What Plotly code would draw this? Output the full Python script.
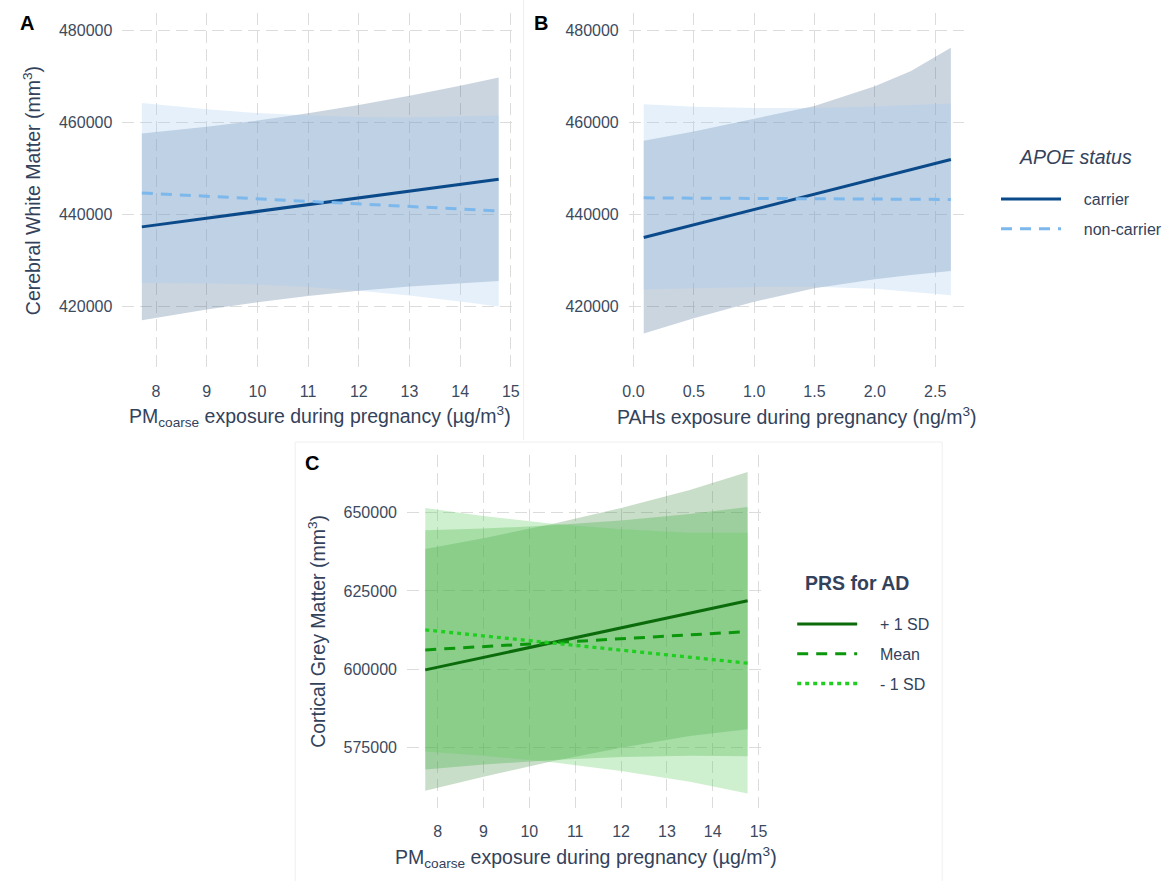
import plotly.graph_objects as go

# ---------------- data ----------------
# Panel A: PMcoarse exposure x APOE status -> Cerebral white matter
pm_x = [7.72, 9, 10, 11, 12, 13, 14, 14.76]
a_carrier_fit = [437240, 439124, 440595, 442067, 443539, 445010, 446482, 447600]
a_carrier_hi = [457540, 458965, 460325, 461908, 463708, 465715, 467913, 469700]
a_carrier_lo = [416940, 419283, 420865, 422226, 423370, 424305, 425051, 425500]
a_non_fit = [444600, 443891, 443337, 442783, 442229, 441675, 441121, 440700]
a_non_hi = [464140, 462763, 461965, 461411, 461101, 461037, 461195, 461451]
a_non_lo = [425060, 425019, 424709, 424155, 423357, 422313, 421047, 419949]

# Panel B: PAHs exposure x APOE status -> Cerebral white matter
pah_x = [0.085, 0.5, 1.0, 1.5, 2.0, 2.3, 2.63]
b_carrier_fit = [434930, 437700, 441030, 444360, 447690, 449690, 451890]
b_carrier_hi = [455930, 457960, 460720, 463500, 467800, 471100, 476150]
b_carrier_lo = [414060, 417390, 421000, 423900, 425870, 426800, 427670]
b_non_fit = [443540, 443480, 443415, 443350, 443285, 443245, 443190]
b_non_hi = [463850, 463350, 463050, 463050, 463400, 463700, 464060]
b_non_lo = [423620, 423900, 424200, 424250, 423800, 423200, 422390]

# Panel C: PMcoarse exposure x PRS for AD -> Cortical grey matter
c_x = [7.73, 9, 10.5, 12, 13.5, 14.76]
c_plus_fit = [599780, 603776, 608496, 613215, 617935, 621900]
c_plus_hi = [638380, 641876, 646396, 651515, 657235, 663000]
c_plus_lo = [561180, 565676, 570596, 574915, 578635, 580800]
c_mean_fit = [606170, 607229, 608479, 609730, 610980, 612030]
c_mean_hi = [644370, 644929, 645979, 647530, 649580, 651830]
c_mean_lo = [567970, 569529, 570979, 571930, 572380, 572230]
c_minus_fit = [612570, 610646, 608373, 606101, 603828, 601920]
c_minus_hi = [651470, 648946, 646473, 644701, 643628, 643570]
c_minus_lo = [573670, 572346, 570273, 567501, 564028, 560270]

apoe_title = "APOE status"
apoe_labels = ["carrier", "non-carrier"]
prs_title = "PRS for AD"
prs_labels = ["+ 1 SD", "Mean", "- 1 SD"]
pm_ticks = [8, 9, 10, 11, 12, 13, 14, 15]
pah_ticks = [0.0, 0.5, 1.0, 1.5, 2.0, 2.5]
wm_ticks = [420000, 440000, 460000, 480000]
gm_ticks = [575000, 600000, 625000, 650000]

# ---------------- style ----------------
FONT = "Liberation Sans, Arial, Helvetica, sans-serif"
TXT = "#33425b"
TICK = "#3c4a60"
GRID = "#dcdcdc"

col_carrier = "#0b4a8a"
col_non = "#7db8ec"
fill_carrier = "rgba(62,98,140,0.27)"
fill_non = "rgba(160,200,242,0.28)"
col_plus = "#0b6b0b"
col_mean = "#0c960c"
col_minus = "#1fcf1f"
fill_plus = "rgba(72,145,72,0.30)"
fill_mean = "rgba(60,170,60,0.30)"
fill_minus = "rgba(95,205,95,0.30)"

fig = go.Figure()


def band(xs, hi, lo, color, xa, ya):
    fig.add_trace(go.Scatter(
        x=list(xs) + list(xs)[::-1], y=list(hi) + list(lo)[::-1],
        fill="toself", fillcolor=color, mode="lines", line=dict(width=0),
        hoverinfo="skip", showlegend=False, xaxis=xa, yaxis=ya))


def line(xs, ys, color, dash, name, show, legend, xa, ya, width=3, group=None):
    fig.add_trace(go.Scatter(
        x=xs, y=ys, mode="lines", name="\u00a0\u00a0\u00a0\u00a0" + name,
        line=dict(color=color, width=width, dash=dash),
        showlegend=show, legend=legend, legendgroup=group,
        xaxis=xa, yaxis=ya))


# Panel A
band(pm_x, a_carrier_hi, a_carrier_lo, fill_carrier, "x", "y")
band(pm_x, a_non_hi, a_non_lo, fill_non, "x", "y")
line(pm_x, a_carrier_fit, col_carrier, "solid", apoe_labels[0], True, "legend", "x", "y", group="g1")
line(pm_x, a_non_fit, col_non, "11px,8px", apoe_labels[1], True, "legend", "x", "y", group="g2")

# Panel B
band(pah_x, b_carrier_hi, b_carrier_lo, fill_carrier, "x2", "y2")
band(pah_x, b_non_hi, b_non_lo, fill_non, "x2", "y2")
line(pah_x, b_carrier_fit, col_carrier, "solid", apoe_labels[0], False, "legend", "x2", "y2")
line(pah_x, b_non_fit, col_non, "11px,8px", apoe_labels[1], False, "legend", "x2", "y2")

# Panel C
band(c_x, c_plus_hi, c_plus_lo, fill_plus, "x3", "y3")
band(c_x, c_mean_hi, c_mean_lo, fill_mean, "x3", "y3")
band(c_x, c_minus_hi, c_minus_lo, fill_minus, "x3", "y3")
line(c_x, c_plus_fit, col_plus, "solid", prs_labels[0], True, "legend2", "x3", "y3", group="h1")
line(c_x, c_mean_fit, col_mean, "11px,8px", prs_labels[1], True, "legend2", "x3", "y3", group="h2")
line(c_x, c_minus_fit, col_minus, "4px,4px", prs_labels[2], True, "legend2", "x3", "y3", width=3.3, group="h3")

W, H = 1167, 881


def px(x):
    return x / W


def py(y):
    return 1 - y / H


def xaxis(dom, rng, ticks, fmt, anchor):
    return dict(domain=dom, range=rng, tickvals=ticks, tickformat=fmt, anchor=anchor,
                showgrid=True, gridcolor=GRID, gridwidth=1.4, griddash="12px,6px",
                zeroline=False, showline=False, ticks="", ticklabelstandoff=12,
                tickfont=dict(family=FONT, size=16, color=TICK), fixedrange=True)


def yaxis(dom, rng, ticks, anchor):
    return dict(domain=dom, range=rng, tickvals=ticks, tickformat="d", anchor=anchor,
                showgrid=True, gridcolor=GRID, gridwidth=1.4, griddash="12px,6px",
                zeroline=False, showline=False, ticks="", ticklabelstandoff=9,
                tickfont=dict(family=FONT, size=16, color=TICK), fixedrange=True)


topdom = [py(368.3), py(13.3)]
legend_common = dict(xanchor="left", yanchor="top", bgcolor="rgba(0,0,0,0)",
                     itemwidth=60, tracegroupgap=6, traceorder="grouped",
                     font=dict(family=FONT, size=16, color=TXT))
fig.update_layout(
    width=W, height=H, margin=dict(l=0, r=0, t=0, b=0),
    paper_bgcolor="white", plot_bgcolor="white",
    font=dict(family=FONT, color=TXT),
    xaxis=xaxis([px(118.7), px(521.2)], [7.335, 15.12], pm_ticks, "d", "y"),
    yaxis=yaxis(topdom, [406520, 483630], wm_ticks, "x"),
    xaxis2=xaxis([px(635.3), px(977.4)], [-0.039, 2.74], pah_ticks, ".1f", "y2"),
    yaxis2=yaxis(topdom, [406520, 483630], wm_ticks, "x2"),
    xaxis3=xaxis([px(409), px(772.4)], [7.33, 15.1], pm_ticks, "d", "y3"),
    yaxis3=yaxis([py(808.3), py(455)], [555560, 668440], gm_ticks, "x3"),
    legend=dict(x=px(1010), y=py(182), **legend_common),
    legend2=dict(x=px(802), y=py(607), **legend_common),
)

ann = []
def add_text(text, x, y, size, color=TXT, angle=0):
    ann.append(dict(text=text, x=px(x), y=py(y),
                    xref="paper", yref="paper", showarrow=False, textangle=angle,
                    xanchor="center", yanchor="middle",
                    font=dict(family=FONT, size=size, color=color)))

add_text("Cerebral White Matter (mm<sup>3</sup>)", 26, 190.7, 19.5, angle=-90)
add_text("PM<sub>coarse</sub> exposure during pregnancy (µg/m<sup>3</sup>)", 320.8, 416, 19.5)
add_text("PAHs exposure during pregnancy (ng/m<sup>3</sup>)", 806.5, 416, 19.5)
add_text("Cortical Grey Matter (mm<sup>3</sup>)", 316.5, 631.6, 19.5, angle=-90)
add_text("PM<sub>coarse</sub> exposure during pregnancy (µg/m<sup>3</sup>)", 591.3, 857, 19.5)
add_text("<b>A</b>", 21, 23, 20, color="black")
add_text("<b>B</b>", 546, 23, 20, color="black")
add_text("<b>C</b>", 311.7, 463, 20, color="black")
add_text("<i>" + apoe_title + "</i>", 1091.5, 156.7, 19.5)
add_text("<b>" + prs_title + "</b>", 868, 582.7, 19.5)
fig.update_layout(annotations=ann)

# faint panel separators of the composed figure
sep = dict(color="#efefef", width=1)
shapes = [
    dict(type="line", xref="paper", yref="paper", x0=px(528), x1=px(528), y0=py(0), y1=py(440), line=sep),
    dict(type="line", xref="paper", yref="paper", x0=px(295), x1=px(955), y0=py(442), y1=py(442), line=sep),
    dict(type="line", xref="paper", yref="paper", x0=px(295), x1=px(295), y0=py(442), y1=py(881), line=sep),
    dict(type="line", xref="paper", yref="paper", x0=px(955), x1=px(955), y0=py(442), y1=py(881), line=sep),
]
fig.update_layout(shapes=shapes)

fig.write_html("out.html", config={"displayModeBar": False},
               post_script="document.body.style.margin='0px';document.body.style.overflow='hidden';")
